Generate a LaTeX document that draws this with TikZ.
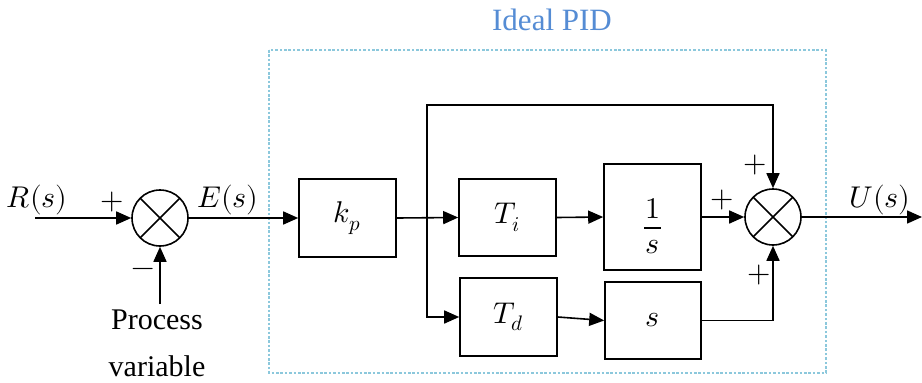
\documentclass[tikz,border=0pt]{standalone}
\usepackage{fontspec}
\usepackage{unicode-math}
\setmainfont{LiberationSerif-Regular.ttf}
\setmathfont{Latin Modern Math}
\usetikzlibrary{arrows.meta}
\definecolor{boxline}{RGB}{140,200,220}
\definecolor{titleblue}{RGB}{85,140,212}
\begin{document}
\begin{tikzpicture}[x=1pt,y=-1pt,
  big/.style={font=\fontsize{30}{36}\selectfont},
  wire/.style={line width=1.6pt},
  arr/.style={wire,-{Triangle[length=15pt,width=13pt]}},
  blk/.style={draw,line width=1.6pt,inner sep=0pt,big},
  sumj/.style={draw,circle,line width=1.6pt,minimum size=56pt,inner sep=0pt,
    path picture={\draw[line width=1.6pt]
      (path picture bounding box.north west)--(path picture bounding box.south east)
      (path picture bounding box.north east)--(path picture bounding box.south west);}},
  lbl/.style={inner sep=0pt,big}]
\useasboundingbox (0,0) rectangle (922,383);

% controller frame and title
\draw[boxline,line width=1.4pt,dash pattern=on 2.6pt off 1.8pt] (269,50) rectangle (826,373);
\node[lbl,text=titleblue,font=\fontsize{31}{36}\selectfont] (title) at (552,20) {Ideal PID};

% blocks
\node[sumj] (s1) at (160,218) {};
\node[blk,minimum width=97pt,minimum height=78pt] (kp) at (347.5,218) {$k_p$};
\node[blk,minimum width=97pt,minimum height=77pt] (Ti) at (507.5,217.5) {$T_i$};
\node[blk,minimum width=97pt,minimum height=78pt] (Td) at (508.5,317) {$T_d$};
\node[blk,minimum width=97pt,minimum height=106pt] (int) at (652.5,217) {};
\node[blk,minimum width=96pt,minimum height=77pt] (der) at (653,320.5) {$s$};
\node[sumj] (s2) at (773,217) {};

% integrator fraction 1/s
\node[lbl] (num) at (652.5,209) {$1$};
\node[lbl] (den) at (652.5,247) {$s$};
\draw[line width=2.6pt] ([xshift=-8.5pt]int.center |- 0,228) coordinate (barL) -- ++(17,0) coordinate (barR);

% free ends and corners
\coordinate (rin) at (35,218);
\coordinate (pv) at (160,304);
\coordinate (br) at (427,218);
\coordinate (topL) at (427,105);
\coordinate (uout) at (922,217);

% connectors
\draw[arr] (rin) -- (s1.west);
\draw[arr] (pv) -- (s1.south);
\draw[arr] (s1.east) -- (kp.west);
\draw[arr] (kp.east) -- (Ti.west);
\draw[arr] (br) -- (topL) -| (s2.north);
\draw[arr] (br) |- (Td.west);
\draw[arr] (Ti.east) -- (int.west);
\draw[arr] (Td.east) -- (der.west);
\draw[arr] (int.east) -- (s2.west);
\draw[arr] (der.east) -| (s2.south);
\draw[arr] (s2.east) -- (uout);

% signal labels
\node[lbl] (R) at (37,200) {$R(s)$};
\node[lbl] (E) at (228,200) {$E(s)$};
\node[lbl] (U) at (880,200) {$U(s)$};
\node[lbl] (p1) at (112,202) {$+$};
\node[lbl] (m1) at (143,272) {$-$};
\node[lbl] (p2) at (755,165) {$+$};
\node[lbl] (p3) at (722,200) {$+$};
\node[lbl] (p4) at (759,275) {$+$};
\node[lbl] (pv1) at (157,320) {Process};
\node[lbl] (pv2) at (157,366) {variable};
\end{tikzpicture}
\end{document}
